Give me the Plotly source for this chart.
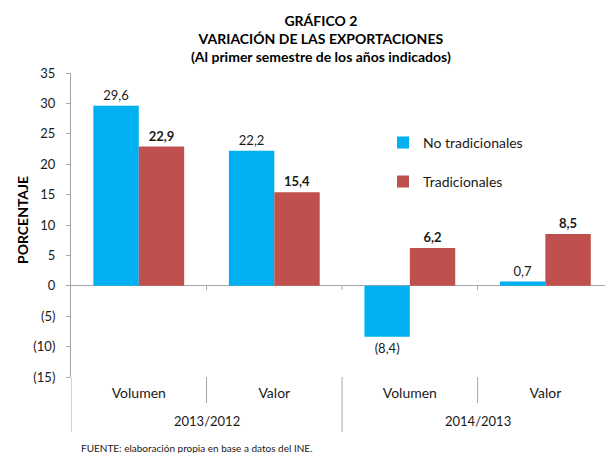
import plotly.graph_objects as go

periods = ["2013/2012", "2013/2012", "2014/2013", "2014/2013"]
measures = ["Volumen", "Valor", "Volumen", "Valor"]
no_trad = [29.6, 22.2, -8.4, 0.7]
trad = [22.9, 15.4, 6.2, 8.5]
series_names = ["No tradicionales", "Tradicionales"]
y_ticks = [-15, -10, -5, 0, 5, 10, 15, 20, 25, 30, 35]

FONT = "Lato"
BLUE = "#00B0F0"
RED = "#C0504D"
GRAY = "#A6A6A6"
TXT = "#1a1a1a"

L, T, B, R = 71, 73, 76, 0
W, H = 605, 453
PW, PH = W - L - R, H - T - B


def fmt(v):
    s = f"{abs(v):.1f}".replace(".", ",")
    return f"({s})" if v < 0 else s


def fmt_tick(v):
    return f"({abs(v)})" if v < 0 else str(v)


def px_x(x):
    return (x - L) / PW


def px_y(y):
    return (H - B - y) / PH


idx = list(range(len(measures)))

fig = go.Figure()
fig.add_trace(go.Bar(
    x=idx, y=no_trad, name=series_names[0],
    marker=dict(color=BLUE, line=dict(width=0)),
    text=[fmt(v) for v in no_trad], textposition="outside",
    textfont=dict(family=FONT, size=13, color=TXT),
    cliponaxis=False, legendgroup="a",
))
fig.add_trace(go.Bar(
    x=idx, y=trad, name=series_names[1],
    marker=dict(color=RED, line=dict(width=0)),
    text=[f"<b>{fmt(v)}</b>" for v in trad], textposition="outside",
    textfont=dict(family=FONT, size=13, color=TXT),
    cliponaxis=False, legendgroup="b",
))

# separators of the two-level category axis
shapes = []
groups = []
for i in idx:
    if i == 0 or periods[i] != periods[i - 1]:
        groups.append([periods[i], i, i])
    else:
        groups[-1][2] = i
outer_bounds = [g[1] - 0.5 for g in groups]
inner_bounds = [i - 0.5 for i in idx if i > 0 and periods[i] == periods[i - 1]]
for xb in outer_bounds:
    shapes.append(dict(type="line", xref="x", yref="paper", x0=xb, x1=xb,
                       y0=0, y1=px_y(432), line=dict(color=GRAY, width=1)))
for xb in inner_bounds:
    shapes.append(dict(type="line", xref="x", yref="paper", x0=xb, x1=xb,
                       y0=0, y1=px_y(403), line=dict(color=GRAY, width=1)))
# small tick marks on the zero line at category boundaries
for xb in [i + 0.5 for i in idx[:-1]]:
    shapes.append(dict(type="line", xref="x", yref="y", x0=xb, x1=xb,
                       y0=0, y1=-0.7, line=dict(color=GRAY, width=1)))

annotations = [
    dict(text="<b>GRÁFICO 2</b><br><b>VARIACIÓN DE LAS EXPORTACIONES</b><br><b>(Al primer semestre de los años indicados)</b>",
         xref="paper", yref="paper", x=px_x(321), y=px_y(10),
         xanchor="center", yanchor="top", align="center", showarrow=False,
         font=dict(family=FONT, size=14, color="#000000")),
    dict(text="<b>PORCENTAJE</b>", textangle=-90, xref="paper", yref="paper",
         x=px_x(22), y=px_y(220), xanchor="center", yanchor="middle",
         showarrow=False, font=dict(family=FONT, size=14, color="#000000")),
    dict(text="FUENTE: elaboración propia en base a datos del INE.",
         xref="paper", yref="paper", x=px_x(79), y=px_y(448),
         xanchor="left", yanchor="middle", showarrow=False,
         font=dict(family=FONT, size=10, color=TXT)),
]
for name, a, b in groups:
    annotations.append(dict(text=name, xref="x", yref="paper", x=(a + b) / 2,
                            y=px_y(421), xanchor="center", yanchor="middle",
                            showarrow=False, font=dict(family=FONT, size=13, color=TXT)))

fig.update_layout(
    width=W, height=H,
    margin=dict(l=L, r=R, t=T, b=B),
    paper_bgcolor="white", plot_bgcolor="white",
    barmode="group", bargap=0.33, bargroupgap=0,
    font=dict(family=FONT, size=13, color=TXT),
    legend=dict(
        x=px_x(383), y=0.823, xanchor="left", yanchor="top",
        font=dict(family=FONT, size=14, color=TXT),
        tracegroupgap=18, traceorder="grouped",
        bgcolor="rgba(0,0,0,0)",
    ),
    showlegend=True,
    xaxis=dict(
        range=[-0.5, 3.44],
        tickmode="array", tickvals=idx, ticktext=measures,
        showline=False, showgrid=False, zeroline=False,
        ticks="", ticklabelstandoff=6,
        tickfont=dict(family=FONT, size=14, color=TXT),
    ),
    yaxis=dict(
        range=[-15, 35],
        tickvals=y_ticks, ticktext=[fmt_tick(v) for v in y_ticks],
        showgrid=False, showline=True, linecolor=GRAY, linewidth=1,
        ticks="outside", ticklen=4, tickcolor=GRAY, ticklabelstandoff=8,
        zeroline=True, zerolinecolor=GRAY, zerolinewidth=1,
        tickfont=dict(family=FONT, size=13, color=TXT),
    ),
    shapes=shapes,
    annotations=annotations,
)

fig.write_html("out.html")
